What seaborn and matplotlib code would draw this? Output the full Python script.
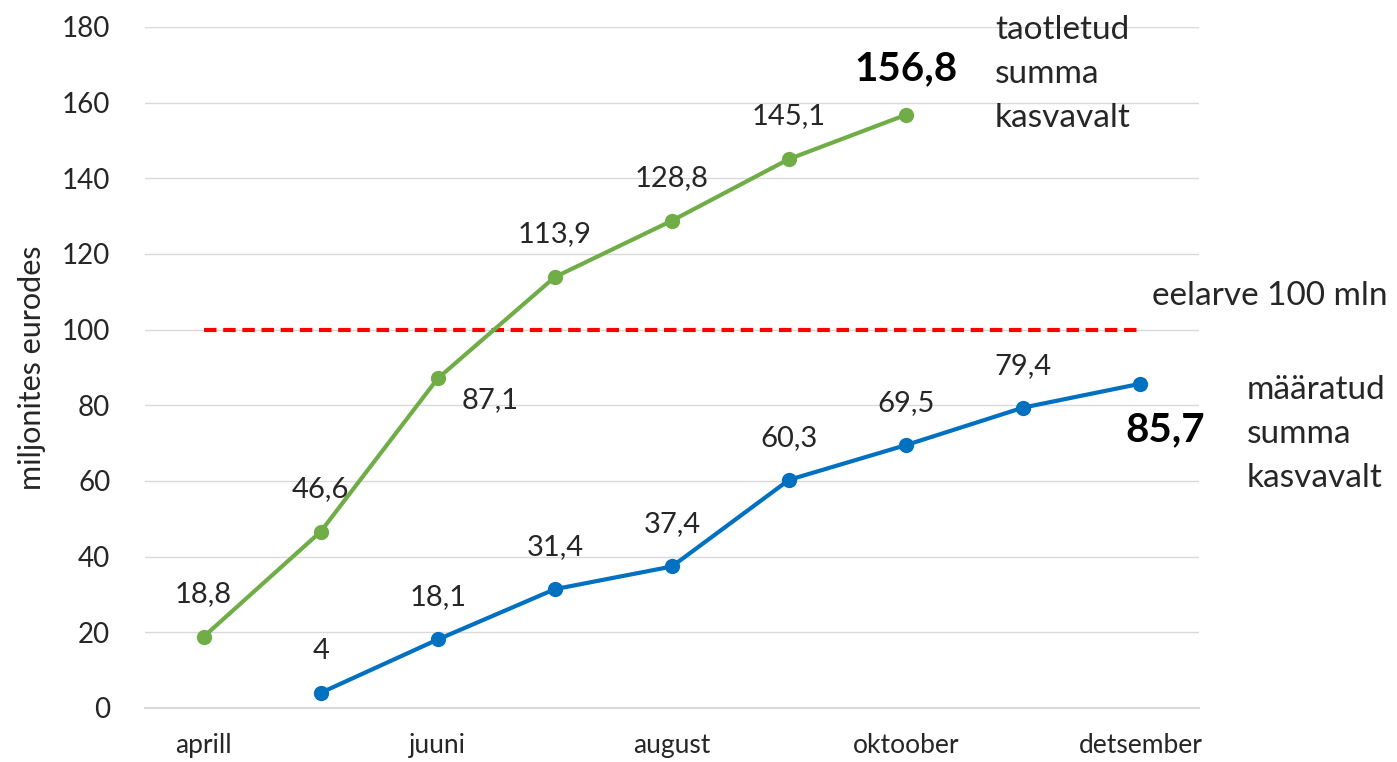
import numpy as np
import pandas as pd
import matplotlib
matplotlib.use("Agg")
import matplotlib.pyplot as plt
import seaborn as sns

months = ["aprill", "mai", "juuni", "juuli", "august", "september", "oktoober", "november", "detsember"]
tick_labels = ["aprill", "", "juuni", "", "august", "", "oktoober", "", "detsember"]
requested = [18.8, 46.6, 87.1, 113.9, 128.8, 145.1, 156.8, np.nan, np.nan]
granted = [np.nan, 4, 18.1, 31.4, 37.4, 60.3, 69.5, 79.4, 85.7]
budget = 100
yticks = [0, 20, 40, 60, 80, 100, 120, 140, 160, 180]

sns.set_theme(style="white")
plt.rcParams["font.family"] = ["Lato", "DejaVu Sans"]

GREEN = "#70AD47"
BLUE = "#0070C0"
TXT = "#262626"

fig = plt.figure(figsize=(13.97, 7.62), dpi=100)
ax = fig.add_axes([0.1038, 0.0709, 0.7544, 0.8937])

idx = np.arange(len(months))
df = pd.DataFrame({
    "x": np.concatenate([idx, idx]),
    "y": requested + granted,
    "series": ["taotletud"] * len(months) + ["määratud"] * len(months),
})
df = df.dropna()
sns.lineplot(data=df, x="x", y="y", hue="series", palette={"taotletud": GREEN, "määratud": BLUE},
             marker="o", markersize=11, markeredgewidth=0, linewidth=3, ax=ax, legend=False)

ax.plot([idx[0], idx[-1]], [budget, budget], color="#FF0000", linestyle=(0, (3, 1.6)), linewidth=3, zorder=1)

ax.set_xlim(-0.5, 8.5)
ax.set_ylim(0, 180)
ax.set_yticks(yticks)
ax.set_yticklabels([str(v) for v in yticks], fontsize=20, color=TXT)
ax.set_xticks(idx)
ax.set_xticklabels(tick_labels, fontsize=19, color=TXT)
ax.tick_params(axis="both", length=0)
ax.tick_params(axis="y", pad=25)
ax.tick_params(axis="x", pad=18)
ax.grid(axis="y", color="#D9D9D9", linewidth=1)
ax.set_axisbelow(True)
for s in ["top", "right", "left"]:
    ax.spines[s].set_visible(False)
ax.spines["bottom"].set_color("#D9D9D9")
ax.spines["bottom"].set_linewidth(1.5)
ax.set_xlabel("")
ax.set_ylabel("miljonites eurodes", fontsize=22, color=TXT, va="center")
ax.yaxis.set_label_coords(-(145 - 32) / 1054, 0.5)

def fmt(v):
    s = ("%.1f" % v).rstrip("0").rstrip(".")
    return s.replace(".", ",")

for i, v in enumerate(requested):
    if np.isnan(v):
        continue
    if i == 2:
        ax.annotate(fmt(v), (i, v), xytext=(52, -22), textcoords="offset pixels",
                    ha="center", va="center", fontsize=21, color=TXT)
    elif i == 6:
        ax.annotate(fmt(v), (i, v), xytext=(0, 46), textcoords="offset pixels",
                    ha="center", va="center", fontsize=29, fontweight="bold", color="black")
    else:
        ax.annotate(fmt(v), (i, v), xytext=(0, 43), textcoords="offset pixels",
                    ha="center", va="center", fontsize=21, color=TXT)

for i, v in enumerate(granted):
    if np.isnan(v):
        continue
    if i == 8:
        ax.annotate(fmt(v), (i, v), xytext=(25, -46), textcoords="offset pixels",
                    ha="center", va="center", fontsize=29, fontweight="bold", color="black")
    else:
        ax.annotate(fmt(v), (i, v), xytext=(0, 42), textcoords="offset pixels",
                    ha="center", va="center", fontsize=21, color=TXT)

fig.text(995 / 1397, 1 - 74 / 762, "taotletud\nsumma\nkasvavalt", ha="left", va="center",
         fontsize=24, color=TXT, linespacing=1.6)
fig.text(1152 / 1397, 1 - 296 / 762, "eelarve 100 mln", ha="left", va="center",
         fontsize=24, color=TXT)
fig.text(1247 / 1397, 1 - 434 / 762, "määratud\nsumma\nkasvavalt", ha="left", va="center",
         fontsize=24, color=TXT, linespacing=1.6)

fig.savefig("out.png", dpi=100)
